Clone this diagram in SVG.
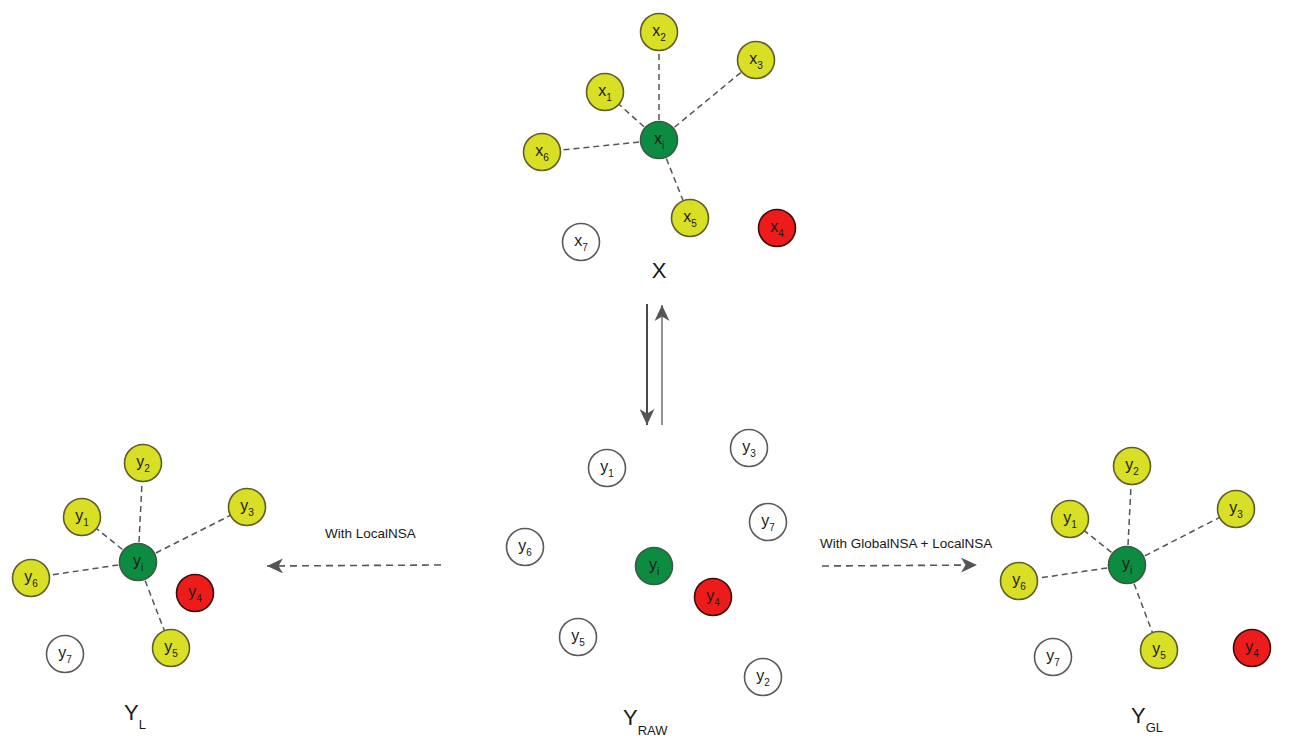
<svg xmlns="http://www.w3.org/2000/svg" width="1298" height="744" viewBox="0 0 1298 744">
<style>
  .n circle { stroke-width: 1.6; }
  .yel circle { fill: #d8df24; stroke: #5e5d2b; }
  .grn circle { fill: #0b8c40; stroke: #3b5a43; }
  .red circle { fill: #ee1b1b; stroke: #3a0f0f; }
  .wht circle { fill: #ffffff; stroke: #5a5a5a; }
  .lbl { font-family: "Liberation Sans", Arial, sans-serif; font-size: 16px; fill: #1a1a1a; text-anchor: middle; }
  .sub { font-size: 10px; }
  .dash { stroke: #555555; stroke-width: 1.5; stroke-dasharray: 6 4; fill: none; }
  .hdash { stroke: #555555; stroke-width: 1.6; stroke-dasharray: 7 5; fill: none; }
  .cap { font-family: "Liberation Sans", Arial, sans-serif; font-size: 13.5px; fill: #1a1a1a; }
  .big { font-family: "Liberation Sans", Arial, sans-serif; font-size: 22px; fill: #1a1a1a; }
  .bsub { font-size: 13px; }
</style>
<defs>
  <marker id="ah" viewBox="0 0 16 15" refX="16" refY="7.5" markerWidth="16" markerHeight="15" markerUnits="userSpaceOnUse" orient="auto">
    <path d="M0,0 L16,7.5 L0,15 L4.5,7.5 Z" fill="#555555"/>
  </marker>
</defs>

<g id="connectors">
  <!-- top cluster X -->
  <line class="dash" x1="659" y1="140" x2="659" y2="32"/>
  <line class="dash" x1="659" y1="140" x2="756" y2="60"/>
  <line class="dash" x1="659" y1="140" x2="605" y2="92"/>
  <line class="dash" x1="659" y1="140" x2="542" y2="152"/>
  <line class="dash" x1="659" y1="140" x2="690" y2="218"/>
  <!-- left cluster Y_L -->
  <line class="dash" x1="138" y1="562" x2="143" y2="463"/>
  <line class="dash" x1="138" y1="562" x2="247" y2="507"/>
  <line class="dash" x1="138" y1="562" x2="82" y2="517"/>
  <line class="dash" x1="138" y1="562" x2="31" y2="578"/>
  <line class="dash" x1="138" y1="562" x2="171" y2="648"/>
  <!-- right cluster Y_GL -->
  <line class="dash" x1="1127" y1="565" x2="1132" y2="466"/>
  <line class="dash" x1="1127" y1="565" x2="1236" y2="509"/>
  <line class="dash" x1="1127" y1="565" x2="1070" y2="519"/>
  <line class="dash" x1="1127" y1="565" x2="1019" y2="581"/>
  <line class="dash" x1="1127" y1="565" x2="1159" y2="650"/>
  <!-- vertical arrows -->
  <line x1="647" y1="304" x2="647" y2="425" stroke="#4a4a4a" stroke-width="2" marker-end="url(#ah)"/>
  <line x1="662" y1="425" x2="662" y2="305" stroke="#666666" stroke-width="1.4" marker-end="url(#ah)"/>
  <!-- horizontal arrows -->
  <line class="hdash" x1="441" y1="565" x2="267" y2="566" marker-end="url(#ah)"/>
  <line class="hdash" x1="822" y1="566" x2="977" y2="565" marker-end="url(#ah)"/>
</g>

<g id="edge-labels">
  <text class="cap" x="325" y="538">With LocalNSA</text>
  <text class="cap" x="820" y="548">With GlobalNSA + LocalNSA</text>
</g>

<!-- Top cluster X -->
<g id="X-xi" class="n grn"><circle cx="659" cy="140" r="18.5"/><text class="lbl" x="659" y="144">x<tspan class="sub" dy="5">i</tspan></text></g>
<g id="X-x2" class="n yel"><circle cx="659" cy="32" r="18.5"/><text class="lbl" x="659" y="36">x<tspan class="sub" dy="5">2</tspan></text></g>
<g id="X-x3" class="n yel"><circle cx="756" cy="60" r="18.5"/><text class="lbl" x="756" y="64">x<tspan class="sub" dy="5">3</tspan></text></g>
<g id="X-x1" class="n yel"><circle cx="605" cy="92" r="18.5"/><text class="lbl" x="605" y="96">x<tspan class="sub" dy="5">1</tspan></text></g>
<g id="X-x6" class="n yel"><circle cx="542" cy="152" r="18.5"/><text class="lbl" x="542" y="156">x<tspan class="sub" dy="5">6</tspan></text></g>
<g id="X-x5" class="n yel"><circle cx="690" cy="218" r="18.5"/><text class="lbl" x="690" y="222">x<tspan class="sub" dy="5">5</tspan></text></g>
<g id="X-x4" class="n red"><circle cx="777" cy="228" r="18.5"/><text class="lbl" x="777" y="232">x<tspan class="sub" dy="5">4</tspan></text></g>
<g id="X-x7" class="n wht"><circle cx="581" cy="242" r="18.5"/><text class="lbl" x="581" y="246">x<tspan class="sub" dy="5">7</tspan></text></g>
<text id="label-X" class="big" x="659" y="278" text-anchor="middle">X</text>

<!-- Left cluster Y_L -->
<g id="YL-yi" class="n grn"><circle cx="138" cy="562" r="18.5"/><text class="lbl" x="138" y="566">y<tspan class="sub" dy="5">i</tspan></text></g>
<g id="YL-y2" class="n yel"><circle cx="143" cy="463" r="18.5"/><text class="lbl" x="143" y="467">y<tspan class="sub" dy="5">2</tspan></text></g>
<g id="YL-y3" class="n yel"><circle cx="247" cy="507" r="18.5"/><text class="lbl" x="247" y="511">y<tspan class="sub" dy="5">3</tspan></text></g>
<g id="YL-y1" class="n yel"><circle cx="82" cy="517" r="18.5"/><text class="lbl" x="82" y="521">y<tspan class="sub" dy="5">1</tspan></text></g>
<g id="YL-y6" class="n yel"><circle cx="31" cy="578" r="18.5"/><text class="lbl" x="31" y="582">y<tspan class="sub" dy="5">6</tspan></text></g>
<g id="YL-y4" class="n red"><circle cx="195" cy="593" r="18.5"/><text class="lbl" x="195" y="597">y<tspan class="sub" dy="5">4</tspan></text></g>
<g id="YL-y5" class="n yel"><circle cx="171" cy="648" r="18.5"/><text class="lbl" x="171" y="652">y<tspan class="sub" dy="5">5</tspan></text></g>
<g id="YL-y7" class="n wht"><circle cx="65" cy="654" r="18.5"/><text class="lbl" x="65" y="658">y<tspan class="sub" dy="5">7</tspan></text></g>
<text id="label-YL" class="big" x="124" y="720">Y<tspan class="bsub" dy="9">L</tspan></text>

<!-- Middle cluster Y_RAW -->
<g id="YR-yi" class="n grn"><circle cx="654" cy="566" r="18.5"/><text class="lbl" x="654" y="570">y<tspan class="sub" dy="5">i</tspan></text></g>
<g id="YR-y1" class="n wht"><circle cx="607" cy="468" r="18.5"/><text class="lbl" x="607" y="472">y<tspan class="sub" dy="5">1</tspan></text></g>
<g id="YR-y3" class="n wht"><circle cx="749" cy="448" r="18.5"/><text class="lbl" x="749" y="452">y<tspan class="sub" dy="5">3</tspan></text></g>
<g id="YR-y7" class="n wht"><circle cx="768" cy="522" r="18.5"/><text class="lbl" x="768" y="526">y<tspan class="sub" dy="5">7</tspan></text></g>
<g id="YR-y6" class="n wht"><circle cx="525" cy="547" r="18.5"/><text class="lbl" x="525" y="551">y<tspan class="sub" dy="5">6</tspan></text></g>
<g id="YR-y4" class="n red"><circle cx="713" cy="597" r="18.5"/><text class="lbl" x="713" y="601">y<tspan class="sub" dy="5">4</tspan></text></g>
<g id="YR-y5" class="n wht"><circle cx="578" cy="637" r="18.5"/><text class="lbl" x="578" y="641">y<tspan class="sub" dy="5">5</tspan></text></g>
<g id="YR-y2" class="n wht"><circle cx="763" cy="677" r="18.5"/><text class="lbl" x="763" y="681">y<tspan class="sub" dy="5">2</tspan></text></g>
<text id="label-YRAW" class="big" x="623" y="725">Y<tspan class="bsub" dy="10">RAW</tspan></text>

<!-- Right cluster Y_GL -->
<g id="YGL-yi" class="n grn"><circle cx="1127" cy="565" r="18.5"/><text class="lbl" x="1127" y="569">y<tspan class="sub" dy="5">i</tspan></text></g>
<g id="YGL-y2" class="n yel"><circle cx="1132" cy="466" r="18.5"/><text class="lbl" x="1132" y="470">y<tspan class="sub" dy="5">2</tspan></text></g>
<g id="YGL-y3" class="n yel"><circle cx="1236" cy="509" r="18.5"/><text class="lbl" x="1236" y="513">y<tspan class="sub" dy="5">3</tspan></text></g>
<g id="YGL-y1" class="n yel"><circle cx="1070" cy="519" r="18.5"/><text class="lbl" x="1070" y="523">y<tspan class="sub" dy="5">1</tspan></text></g>
<g id="YGL-y6" class="n yel"><circle cx="1019" cy="581" r="18.5"/><text class="lbl" x="1019" y="585">y<tspan class="sub" dy="5">6</tspan></text></g>
<g id="YGL-y5" class="n yel"><circle cx="1159" cy="650" r="18.5"/><text class="lbl" x="1159" y="654">y<tspan class="sub" dy="5">5</tspan></text></g>
<g id="YGL-y4" class="n red"><circle cx="1252" cy="648" r="18.5"/><text class="lbl" x="1252" y="652">y<tspan class="sub" dy="5">4</tspan></text></g>
<g id="YGL-y7" class="n wht"><circle cx="1053" cy="657" r="18.5"/><text class="lbl" x="1053" y="661">y<tspan class="sub" dy="5">7</tspan></text></g>
<text id="label-YGL" class="big" x="1131" y="723">Y<tspan class="bsub" dy="9">GL</tspan></text>
</svg>
